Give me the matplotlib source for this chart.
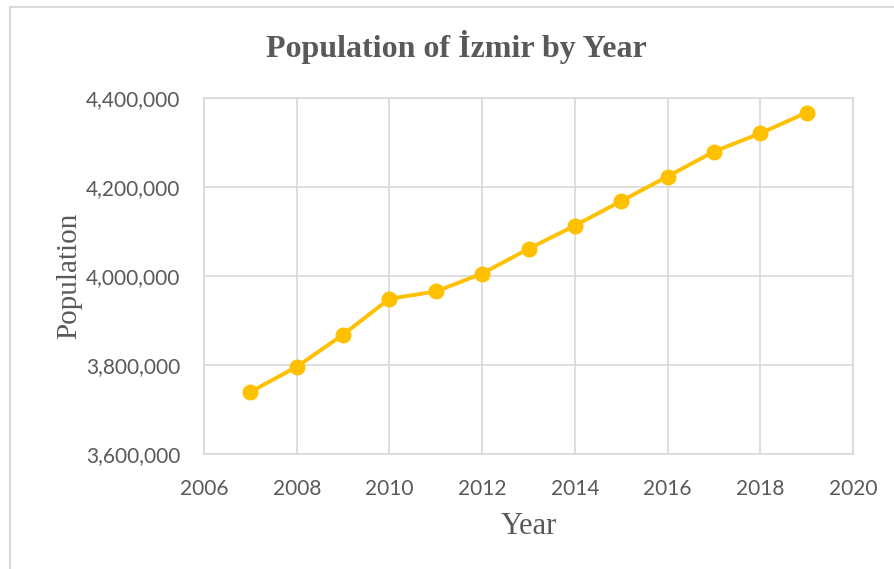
import matplotlib.pyplot as plt
from matplotlib.ticker import FuncFormatter
from matplotlib.patches import Rectangle

# population of Izmir per year
years = [2007, 2008, 2009, 2010, 2011, 2012, 2013, 2014, 2015, 2016, 2017, 2018, 2019]
population = [3739353, 3795978, 3868308, 3948848, 3965232, 4005459, 4061074,
              4113072, 4168415, 4223545, 4279677, 4320519, 4367251]

grey = '#595959'
grid_col = '#d9d9d9'

fig = plt.figure(figsize=(8.95, 5.69), dpi=100)
# outer chart frame
fig.patches.append(Rectangle((10/895, -0.1), 1.0, 1 - 7/569 + 0.1, transform=fig.transFigure,
                             fill=False, edgecolor=grid_col, linewidth=1.5))

ax = fig.add_axes([204/895, 115/569, 649/895, 356/569])
ax.plot(years, population, color='#ffc000', linewidth=2.8, marker='o', markersize=10.5, zorder=3)

ax.set_xlim(2006, 2020)
ax.set_ylim(3600000, 4400000)
ax.set_xticks(range(2006, 2021, 2))
ax.set_yticks(range(3600000, 4400001, 200000))
ax.yaxis.set_major_formatter(FuncFormatter(lambda v, p: f'{int(v):,}'))
ax.grid(True, color=grid_col, linewidth=1.2)
ax.set_axisbelow(True)
for s in ax.spines.values():
    s.set_color(grid_col)
    s.set_linewidth(1.2)
ax.tick_params(length=0, labelsize=15, labelcolor=grey)
ax.tick_params(axis='y', pad=17)
ax.tick_params(axis='x', pad=18)
for lab in ax.get_xticklabels() + ax.get_yticklabels():
    lab.set_family('Lato')

ax.set_xlabel('Year', family='Liberation Serif', fontsize=22, color=grey, labelpad=9)
ax.set_ylabel('Population', family='Liberation Serif', fontsize=21, color=grey, labelpad=3)
fig.text(456/895, 1 - 47/569, 'Population of İzmir by Year', family='Liberation Serif',
         fontsize=23, fontweight='bold', color=grey, ha='center', va='center')

plt.savefig('out.png', dpi=100)
